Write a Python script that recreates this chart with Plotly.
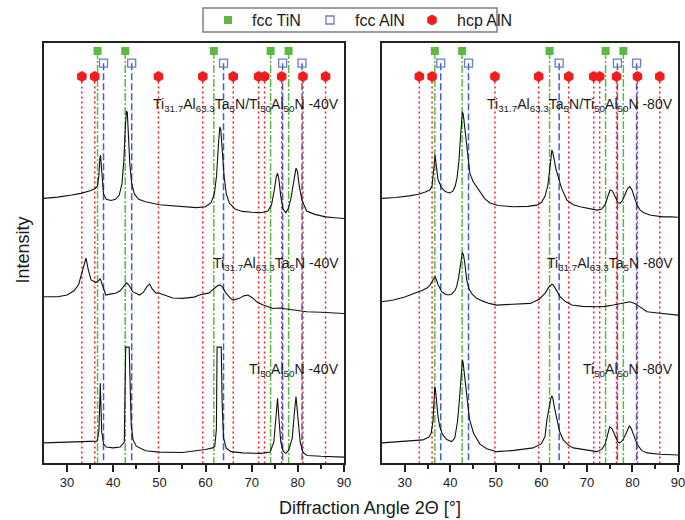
import plotly.graph_objects as go

# ---------------- data ----------------
TIN_FCC = [36.6, 42.6, 61.8, 74.1, 78.0]
ALN_FCC = [37.9, 44.0, 63.9, 76.7, 80.9]
ALN_HCP = [33.2, 36.0, 49.8, 59.4, 66.0, 71.5, 72.8, 76.5, 81.1, 86.0]

# -40 V, multilayer
L40_ML_X = [25, 28, 31, 33, 35, 36, 36.6, 36.9, 37.1, 37.25, 37.4, 37.6, 37.9, 38.5, 39.5, 40.5, 41.3, 41.9,
            42.3, 42.6, 42.85, 43.05, 43.3, 43.6, 44.0, 44.6, 45.5, 47.0, 50.0, 55.0, 58.0, 60.0, 61.2, 61.9,
            62.4, 62.8, 63.1, 63.3, 63.6, 64.0, 64.5, 65.2, 66.5, 68.0, 70.0, 72.0, 73.5, 74.3, 74.9, 75.3,
            75.6, 75.9, 76.3, 76.8, 77.4, 77.9, 78.5, 79.1, 79.6, 79.9, 80.3, 80.9, 81.9, 83.7, 86.0, 88.0, 90.0]
L40_ML_Y = [63.0, 63.3, 63.8, 64.2, 64.8, 65.3, 66.0, 68.5, 72.5, 73.3, 71.0, 67.0, 64.0, 62.8, 62.5, 62.8, 63.8, 66.5,
            72.0, 79.5, 83.8, 83.5, 78.0, 71.0, 66.5, 64.0, 62.8, 62.2, 61.5, 61.0, 60.8, 61.0, 62.0, 64.0,
            68.5, 76.0, 80.0, 79.5, 75.0, 68.5, 64.0, 61.8, 60.4, 59.9, 59.7, 59.6, 60.0, 61.5, 65.0, 68.0,
            69.0, 67.5, 63.5, 60.5, 59.6, 60.5, 63.0, 67.0, 70.2, 69.5, 66.0, 62.5, 60.0, 59.2, 58.6, 58.4, 58.2]

# -40 V, Ti31.7Al63.3Ta5N
L40_TA_X = [25, 28, 30, 31.5, 32.5, 33.3, 33.8, 34.1, 34.6, 35.2, 35.8, 36.4, 36.9, 37.2, 37.6, 38.4, 39.3,
            40.5, 41.5, 42.3, 42.9, 43.4, 44.2, 45.7, 46.5, 47.3, 47.9, 48.4, 49.2, 50.0, 52.9, 55.0, 57.5,
            58.7, 60.8, 61.8, 62.6, 63.1, 63.6, 64.4, 65.3, 66.0, 67.3, 68.3, 69.2, 70.2, 71.3, 72.5, 74.6,
            76.0, 78.0, 80.0, 81.9, 85.0, 87.5, 90.0]
L40_TA_Y = [39.6, 39.6, 40.0, 41.0, 42.5, 45.5, 48.0, 48.8, 46.0, 43.6, 43.2, 43.0, 43.5, 43.9, 42.5, 40.0, 40.2,
            40.4, 41.0, 42.0, 42.9, 42.3, 40.8, 40.0, 40.6, 42.0, 42.6, 41.5, 40.5, 40.4, 39.3, 39.2, 39.5,
            40.0, 40.5, 41.5, 42.2, 42.4, 42.0, 40.5, 39.3, 38.8, 39.2, 39.8, 40.0, 39.3, 38.2, 37.6, 36.8,
            36.9, 36.6, 36.3, 36.0, 35.9, 35.8, 35.6]

# -40 V, Ti50Al50N
L40_TI_X = [25, 30, 35, 36.5, 36.9, 37.1, 37.2, 37.3, 37.5, 37.9, 38.5, 40.0, 41.5, 42.4, 42.6, 42.7, 43.45,
            43.6, 43.9, 44.3, 45.0, 47.0, 50.0, 55.0, 60.0, 61.5, 62.0, 62.35, 62.5, 63.4, 63.6, 63.9, 64.5,
            65.5, 68.0, 72.0, 74.0, 74.8, 75.2, 75.6, 75.9, 76.3, 76.8, 77.4, 78.0, 78.8, 79.2, 79.6, 80.0,
            80.5, 81.1, 82.0, 85.0, 90.0]
L40_TI_Y = [4.8, 4.9, 5.0, 5.2, 7.5, 15.0, 19.0, 15.0, 7.5, 4.5, 3.8, 3.6, 3.8, 5.0, 15.0, 27.6, 27.6,
            18.0, 9.0, 5.5, 4.0, 2.9, 2.6, 2.5, 3.2, 3.6, 4.0, 8.0, 27.6, 27.6, 14.0, 6.0, 3.5,
            2.7, 2.4, 2.3, 2.6, 5.0, 10.5, 15.4, 10.5, 5.0, 2.8, 2.3, 3.0, 6.0, 11.5, 15.8, 11.0,
            5.0, 2.5, 1.8, 1.6, 1.4]

# -80 V, multilayer
R80_ML_X = [25, 28, 31, 33, 34.5, 35.5, 36.0, 36.3, 36.5, 36.65, 36.8, 37.0, 37.3, 37.7, 38.3, 39.0, 39.9,
            40.6, 41.1, 41.5, 41.9, 42.2, 42.45, 42.65, 42.85, 43.1, 43.4, 43.8, 44.3, 45.0, 45.7, 46.5,
            47.5, 48.7, 50.5, 53.9, 57.0, 59.0, 60.0, 60.8, 61.4, 61.8, 62.1, 62.3, 62.5, 62.8, 63.2, 63.7,
            64.4, 65.6, 67.0, 68.5, 70.5, 72.2, 73.2, 74.0, 74.6, 75.1, 75.6, 76.2, 76.8, 77.3, 77.8, 78.4,
            78.9, 79.4, 79.9, 80.5, 81.0, 81.7, 82.5, 84.0, 86.8, 88.5, 90.0]
R80_ML_Y = [63.0, 63.2, 63.6, 64.0, 64.5, 65.0, 66.0, 68.5, 71.5, 73.3, 72.0, 69.5, 67.5, 66.5, 65.2, 64.6, 64.3,
            64.8, 66.0, 68.0, 72.0, 77.0, 81.5, 83.6, 83.0, 80.5, 76.9, 72.5, 69.0, 67.0, 65.8, 64.5,
            63.0, 61.9, 61.3, 61.0, 61.1, 61.4, 62.0, 63.5, 66.0, 69.5, 72.8, 74.5, 74.0, 72.0, 70.0, 68.2,
            65.5, 62.6, 61.5, 61.0, 60.5, 60.2, 60.4, 61.5, 63.5, 65.0, 64.8, 63.3, 62.0, 61.8, 62.5, 64.0,
            65.3, 65.8, 65.0, 63.0, 61.5, 60.2, 59.6, 59.0, 58.6, 58.6, 58.5]

# -80 V, Ti31.7Al63.3Ta5N
R80_TA_X = [25, 27.5, 30, 31.9, 33.0, 34.0, 34.8, 35.5, 36.0, 36.4, 36.65, 36.9, 37.3, 38.1, 38.9, 39.6, 40.4,
            41.0, 41.4, 41.8, 42.2, 42.45, 42.65, 42.9, 43.2, 43.6, 44.1, 44.8, 45.8, 47.0, 48.5, 50.2, 53.0,
            55.5, 57.6, 59.5, 60.8, 61.6, 62.0, 62.3, 62.6, 63.0, 63.5, 64.1, 65.2, 66.7, 69.0, 72.2, 74.0,
            75.8, 77.5, 79.4, 80.5, 81.5, 83.2, 85.5, 88.0, 90.0]
R80_TA_Y = [38.4, 38.8, 39.5, 40.4, 40.8, 41.2, 41.6, 42.3, 43.3, 44.2, 44.4, 43.8, 42.5, 40.8, 40.2, 40.0, 40.3,
            41.0, 42.0, 44.0, 47.0, 49.3, 50.1, 49.5, 47.5, 43.6, 41.5, 40.2, 39.2, 38.6, 38.0, 37.6, 37.8,
            37.9, 38.0, 39.0, 40.4, 41.8, 42.4, 42.6, 42.4, 41.8, 40.8, 39.6, 38.5, 37.6, 37.3, 37.2, 37.3,
            37.6, 37.9, 38.4, 38.0, 37.2, 36.0, 35.7, 35.4, 35.2]

# -80 V, Ti50Al50N
R80_TI_X = [25, 28, 31, 34, 35.3, 35.8, 36.2, 36.45, 36.6, 36.75, 37.0, 37.3, 37.7, 38.3, 39.2, 40.3, 41.0,
            41.6, 42.0, 42.3, 42.5, 42.65, 42.8, 43.1, 43.6, 44.2, 45.1, 46.5, 48.0, 50.2, 54.0, 58.2, 60.0,
            60.8, 61.2, 61.8, 62.1, 62.3, 62.5, 62.9, 63.4, 64.0, 64.8, 66.0, 67.0, 70.0, 72.2, 73.3, 74.0,
            74.5, 75.0, 75.5, 76.2, 76.8, 77.2, 77.8, 78.5, 79.0, 79.3, 79.7, 80.3, 81.0, 82.0, 83.2, 86.0, 90.0]
R80_TI_Y = [4.8, 5.0, 5.2, 5.5, 6.2, 7.1, 10.0, 14.5, 18.2, 17.5, 14.0, 11.0, 8.6, 6.8, 5.6, 5.1, 6.0,
            10.0, 15.0, 19.5, 22.5, 24.5, 24.0, 21.0, 17.4, 10.5, 7.1, 4.5, 3.4, 2.7, 3.0, 3.6, 4.6,
            6.3, 10.2, 14.0, 15.5, 16.0, 15.5, 13.0, 10.2, 7.5, 5.5, 4.2, 3.6, 3.0, 2.7, 3.3, 4.5,
            6.5, 8.6, 8.2, 6.3, 5.0, 4.8, 5.3, 6.8, 8.2, 8.8, 8.3, 6.5, 4.5, 3.0, 2.4, 2.1, 1.9]

LABELS_40 = ["Ti<sub>31.7</sub>Al<sub>63.3</sub>Ta<sub>5</sub>N/Ti<sub>50</sub>Al<sub>50</sub>N -40V",
             "Ti<sub>31.7</sub>Al<sub>63.3</sub>Ta<sub>5</sub>N -40V",
             "Ti<sub>50</sub>Al<sub>50</sub>N -40V"]
LABELS_80 = ["Ti<sub>31.7</sub>Al<sub>63.3</sub>Ta<sub>5</sub>N/Ti<sub>50</sub>Al<sub>50</sub>N -80V",
             "Ti<sub>31.7</sub>Al<sub>63.3</sub>Ta<sub>5</sub>N -80V",
             "Ti<sub>50</sub>Al<sub>50</sub>N -80V"]
LEGEND_NAMES = ["fcc TiN", "fcc AlN", "hcp AlN"]

# ---------------- styles / layout constants ----------------
FONT = "Liberation Sans, Arial, sans-serif"
TXT = "#1a1a1a"
GREEN = "#5cb944"
BLUE_LINE = "#3f5fc8"
BLUE_MK = "#6a7bc8"
RED = "#f21c1c"
LEVELS = [98.1, 95.2, 92.0]
LABEL_Y = [85.2, 47.3, 22.2]
LABEL_X = 90.0

DASHES = ["8px,2px,2px,2px", "7px,3px", "2px,3px"]
LINE_COLORS = [GREEN, BLUE_LINE, RED]
MARKERS = [dict(symbol="square", size=8, color=GREEN, line=dict(width=0)),
           dict(symbol="square-open", size=8, color=BLUE_MK, line=dict(width=1.3, color=BLUE_MK)),
           dict(symbol="hexagon", size=11, color=RED, line=dict(width=0))]
POSITIONS = [TIN_FCC, ALN_FCC, ALN_HCP]

# plot area: 634 x 463 px (top margin 0); panels occupy the lower 420 px
PLOT_W, PLOT_H, PANEL_H = 634, 463, 420
PANEL_TOP = PANEL_H / PLOT_H

# legend geometry in plot-area pixels (x from left, y from bottom)
LEG_BOX_PX = (159, 431, 453, 455)
LEG_SYM_PX = [184, 286, 388]
LEG_TXT_PX = [206, 309, 411]
LEG_Y_PX = 443

fig = go.Figure()

panels = [
    ("x", "y", [(L40_ML_X, L40_ML_Y), (L40_TA_X, L40_TA_Y), (L40_TI_X, L40_TI_Y)], LABELS_40),
    ("x2", "y2", [(R80_ML_X, R80_ML_Y), (R80_TA_X, R80_TA_Y), (R80_TI_X, R80_TI_Y)], LABELS_80),
]

for pi, (xa, ya, curves, labels) in enumerate(panels):
    for k in range(3):
        xs, ys = [], []
        for a in POSITIONS[k]:
            xs += [a, a, None]
            ys += [LEVELS[k], 0, None]
        fig.add_trace(go.Scatter(x=xs, y=ys, mode="lines", xaxis=xa, yaxis=ya,
                                 line=dict(color=LINE_COLORS[k], width=1.5, dash=DASHES[k]),
                                 showlegend=False, hoverinfo="skip"))
    for cx, cy in curves:
        fig.add_trace(go.Scatter(x=cx, y=cy, mode="lines", xaxis=xa, yaxis=ya,
                                 line=dict(color="#111111", width=1.1),
                                 showlegend=False))
    for k in range(3):
        fig.add_trace(go.Scatter(x=POSITIONS[k], y=[LEVELS[k]] * len(POSITIONS[k]), mode="markers",
                                 xaxis=xa, yaxis=ya, marker=MARKERS[k], name=LEGEND_NAMES[k],
                                 showlegend=False, cliponaxis=False))
    for lab, ly in zip(labels, LABEL_Y):
        fig.add_annotation(x=LABEL_X, y=ly, xref=xa, yref=ya, text=lab, showarrow=False,
                           xanchor="right", yanchor="middle", xshift=-3,
                           font=dict(family=FONT, size=14, color=TXT))

# manual legend drawn on an invisible pixel-scaled axis pair covering the whole plot area
fig.add_shape(type="rect", xref="x3", yref="y3", x0=LEG_BOX_PX[0], y0=LEG_BOX_PX[1],
              x1=LEG_BOX_PX[2], y1=LEG_BOX_PX[3], line=dict(color="#808080", width=1.5),
              fillcolor="rgba(0,0,0,0)")
for k in range(3):
    fig.add_trace(go.Scatter(x=[LEG_SYM_PX[k]], y=[LEG_Y_PX], mode="markers", xaxis="x3", yaxis="y3",
                             marker=MARKERS[k], showlegend=False, cliponaxis=False, hoverinfo="skip"))
    fig.add_annotation(x=LEG_TXT_PX[k], y=LEG_Y_PX, xref="x3", yref="y3", text=LEGEND_NAMES[k],
                       showarrow=False, xanchor="left", yanchor="middle",
                       font=dict(family=FONT, size=16, color=TXT))

xcommon = dict(range=[25, 90], tickvals=[30, 40, 50, 60, 70, 80, 90], ticks="outside", ticklen=7,
               tickwidth=1.5, tickcolor="#222", showline=True, linecolor="#222", linewidth=1.6,
               mirror=True, showgrid=False, zeroline=False, ticklabeloverflow="allow",
               minor=dict(tickvals=[35, 45, 55, 65, 75, 85], ticks="outside", ticklen=4, tickwidth=1.5,
                          tickcolor="#222", showgrid=False),
               tickfont=dict(family=FONT, size=13, color=TXT))
ycommon = dict(range=[0, 100], showticklabels=False, ticks="", showline=True, linecolor="#222",
               linewidth=1.6, mirror=True, showgrid=False, zeroline=False)

fig.update_layout(
    width=685, height=520,
    margin=dict(l=44, r=7, t=0, b=57),
    paper_bgcolor="white", plot_bgcolor="rgba(0,0,0,0)",
    font=dict(family=FONT, color=TXT),
    showlegend=False,
    xaxis=dict(domain=[0, 0.4732], anchor="y", **xcommon),
    xaxis2=dict(domain=[0.5331, 1], anchor="y2", **xcommon),
    yaxis=dict(domain=[0, PANEL_TOP], anchor="x", **ycommon),
    yaxis2=dict(domain=[0, PANEL_TOP], anchor="x2", **ycommon),
    xaxis3=dict(domain=[0, 1], range=[0, PLOT_W], anchor="y3", visible=False, fixedrange=True),
    yaxis3=dict(domain=[0, 1], range=[0, PLOT_H], anchor="x3", visible=False, fixedrange=True),
)

fig.add_annotation(x=326 / PLOT_W, y=-45 / PLOT_H, xref="paper", yref="paper",
                   text="Diffraction Angle 2Θ [°]",
                   showarrow=False, xanchor="center", yanchor="middle",
                   font=dict(family=FONT, size=18, color=TXT))
fig.add_annotation(x=-21.5 / PLOT_W, y=213 / PLOT_H, xref="paper", yref="paper", text="Intensity",
                   textangle=-90, showarrow=False, xanchor="center", yanchor="middle",
                   font=dict(family=FONT, size=18, color=TXT))

fig.write_html("out.html")
